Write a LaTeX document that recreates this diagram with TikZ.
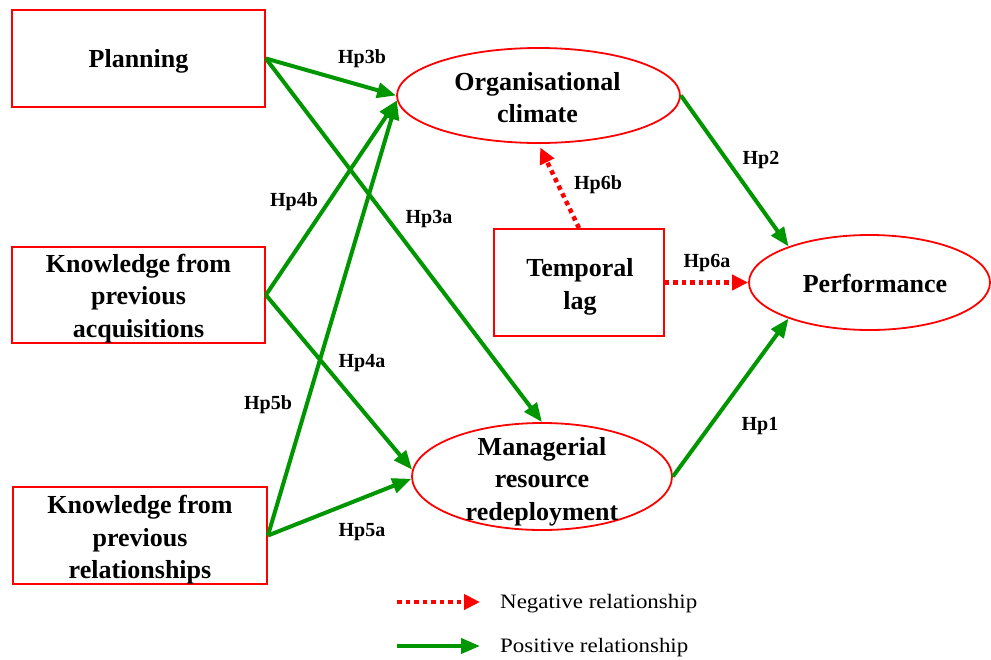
\documentclass[tikz,border=0pt]{standalone}
\usepackage{fontspec}
\setmainfont{Liberation Serif}
\newfontfamily\legfont[FakeStretch=1.12]{Liberation Serif}
\usetikzlibrary{arrows.meta,shapes.geometric,calc}
\definecolor{posgreen}{RGB}{0,150,0}
\definecolor{negred}{RGB}{255,0,0}
\begin{document}
\begin{tikzpicture}[x=1pt,y=-1pt,
 boxnode/.style={draw=negred, line width=1.8pt, rectangle, inner sep=0pt},
 ellnode/.style={draw=negred, line width=1.8pt, ellipse, inner sep=0pt},
 maintext/.style={font=\bfseries\fontsize{26}{32.5}\selectfont, align=center, inner sep=0pt},
 hyplabel/.style={font=\bfseries\fontsize{20}{22}\selectfont, inner sep=0pt},
 legtext/.style={font=\legfont\fontsize{20.5}{22}\selectfont, inner sep=0pt, anchor=west},
 posarrow/.style={draw=posgreen, line width=4pt, -{Triangle[length=19pt,width=15pt]}},
 negarrow/.style={draw=negred, line width=4.5pt, dash pattern=on 4.5pt off 4pt, -{Triangle[length=16pt,width=15pt]}},
]
\path[use as bounding box, fill=white] (0,0) rectangle (991,659);

% boxes
\node[boxnode, minimum width=253pt, minimum height=97pt] (plan) at (138.5,58.5) {};
\node[maintext] (plant) at (138.5,61) {Planning};
\node[boxnode, minimum width=253pt, minimum height=96pt] (kpa) at (138.5,295) {};
\node[maintext] (kpat) at (138.5,298.5) {Knowledge from\\previous\\acquisitions};
\node[boxnode, minimum width=254pt, minimum height=97pt] (kpr) at (140,535.5) {};
\node[maintext] (kprt) at (140,540) {Knowledge from\\previous\\relationships};
\node[boxnode, minimum width=170pt, minimum height=107pt] (tl) at (579,282.5) {};
\node[maintext] (tlt) at (580,287) {Temporal\\lag};

% ellipses
\node[ellnode, minimum width=283pt, minimum height=95pt] (oc) at (538.5,95.5) {};
\node[maintext] (oct) at (537.5,97.5) {Organisational\\climate};
\node[ellnode, minimum width=241pt, minimum height=95pt] (perf) at (869.5,282.5) {};
\node[maintext] (perft) at (875,283) {Performance};
\node[ellnode, minimum width=260pt, minimum height=107pt] (mrr) at (542,476.5) {};
\node[maintext] (mrrt) at (542,481.5) {Managerial\\resource\\redeployment};

% positive arrows
\draw[posarrow] (plan.east) -- (oc.west);
\draw[posarrow] (plan.east) -- (mrr.north);
\draw[posarrow] (kpa.east) -- (oc.182);
\draw[posarrow] (kpa.east) -- (mrr.177);
\draw[posarrow] (kpr.east) -- (oc.182);
\draw[posarrow] (kpr.east) -- (mrr.181);
\draw[posarrow] (oc.east) -- (perf.156.7);
\draw[posarrow] (mrr.east) -- (perf.204);

% negative arrows
\draw[negarrow, shorten >=4pt] (tl.north) -- (oc.south);
\draw[negarrow] (tl.east) -- (perf.west);

% hypothesis labels
\node[hyplabel] (h3b) at (362,59) {Hp3b};
\node[hyplabel] (h4b) at (294,202) {Hp4b};
\node[hyplabel] (h3a) at (429,219) {Hp3a};
\node[hyplabel] (h4a) at (362,363) {Hp4a};
\node[hyplabel] (h5b) at (268,405) {Hp5b};
\node[hyplabel] (h5a) at (362,532) {Hp5a};
\node[hyplabel] (h2) at (761,160) {Hp2};
\node[hyplabel] (h6b) at (598,185) {Hp6b};
\node[hyplabel] (h6a) at (707,263) {Hp6a};
\node[hyplabel] (h1) at (760,426) {Hp1};

% legend
\coordinate (nega) at (397,602);
\coordinate (negb) at (480,602);
\draw[negarrow] (nega) -- (negb);
\node[legtext] (negl) at (500,604) {Negative relationship};
\coordinate (posa) at (397,646);
\coordinate (posb) at (480,646);
\draw[posarrow] (posa) -- (posb);
\node[legtext] (posl) at (500,648) {Positive relationship};
\end{tikzpicture}
\end{document}
